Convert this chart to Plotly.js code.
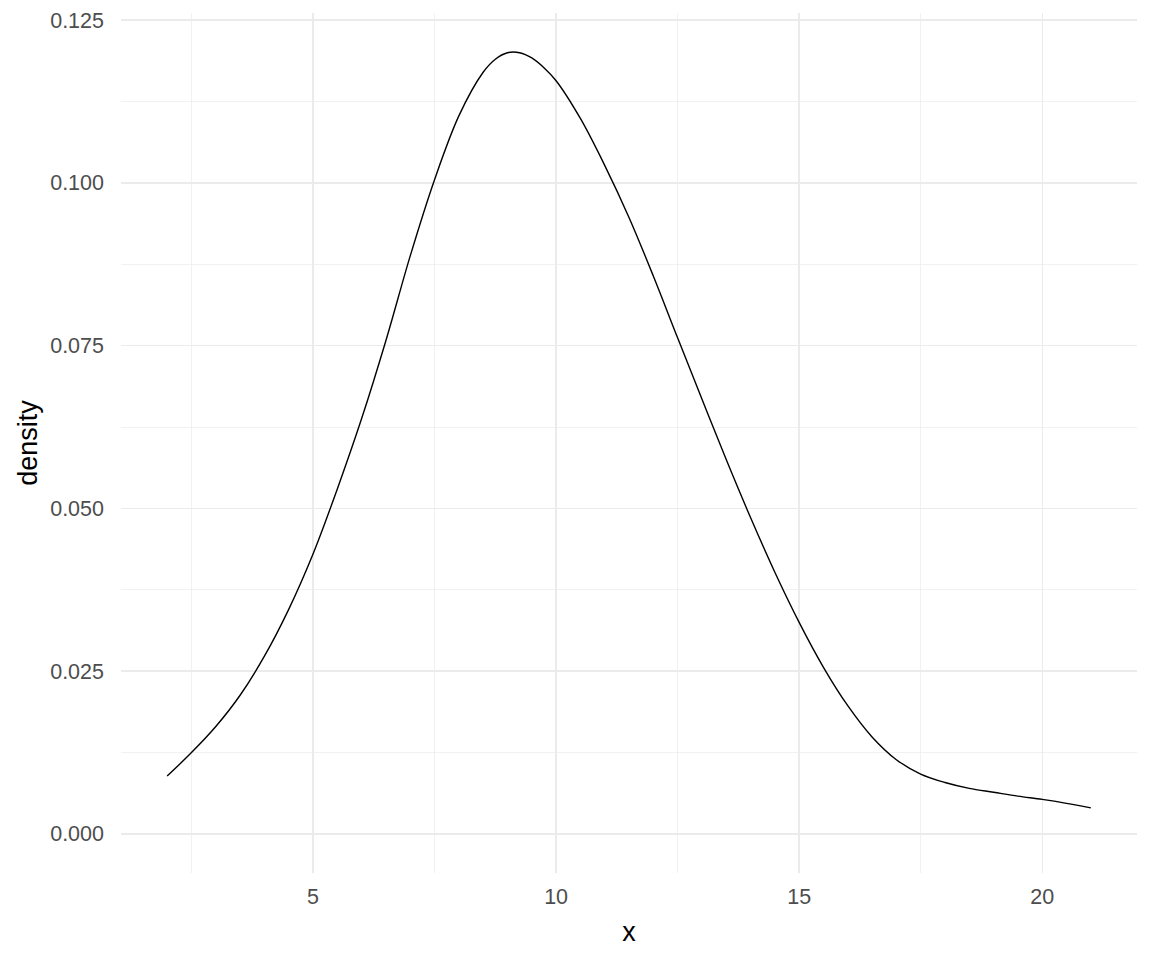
<!DOCTYPE html>
<html>
<head>
<meta charset="utf-8">
<script src="https://cdn.plot.ly/plotly-3.0.1.min.js"></script>
<style>html,body{margin:0;padding:0;background:#fff;}#chart{width:1152px;height:960px;}</style>
</head>
<body>
<div id="chart"></div>
<script>
// Density curve
var xValues = [2.0, 2.5, 3.0, 3.5, 4.0, 4.5, 5.0, 5.5, 6.0, 6.5, 7.0, 7.5, 8.0, 8.5, 8.75, 9.0, 9.25, 9.5, 9.75, 10.0, 10.5, 11.0, 11.5, 12.0, 12.5, 13.0, 13.5, 14.0, 14.5, 15.0, 15.5, 16.0, 16.5, 17.0, 17.5, 18.0, 18.5, 19.0, 19.5, 20.0, 20.5, 21.0];
var densityValues = [0.0089, 0.0125, 0.0165, 0.0213, 0.0273, 0.0345, 0.0430, 0.0530, 0.0638, 0.0758, 0.0888, 0.1005, 0.1103, 0.1170, 0.1190, 0.1200, 0.1200, 0.1192, 0.1177, 0.1157, 0.1099, 0.1027, 0.0947, 0.0857, 0.0762, 0.0668, 0.0575, 0.0486, 0.0402, 0.0325, 0.0256, 0.0197, 0.0149, 0.0114, 0.0092, 0.0079, 0.0070, 0.0064, 0.0058, 0.0053, 0.0047, 0.0040];
var xTickValues = [5, 10, 15, 20];
var yTickValues = [0, 0.025, 0.05, 0.075, 0.1, 0.125];
var yTickLabels = ["0.000", "0.025", "0.050", "0.075", "0.100", "0.125"];
var xMinorValues = [2.5, 7.5, 12.5, 17.5];
var yMinorValues = [0.0125, 0.0375, 0.0625, 0.0875, 0.1125];
var xTitle = "x";
var yTitle = "density";

var trace = {
  x: xValues,
  y: densityValues,
  type: 'scatter',
  mode: 'lines',
  line: {color: '#000000', width: 1.4, shape: 'spline', smoothing: 1},
  hoverinfo: 'skip'
};

var gridCol = '#EBEBEB';
var tickFont = {family: 'Liberation Sans, Arial, sans-serif', size: 21.5, color: '#4D4D4D'};
var titleFont = {family: 'Liberation Sans, Arial, sans-serif', size: 27, color: '#000000'};

var layout = {
  width: 1152,
  height: 960,
  paper_bgcolor: '#FFFFFF',
  plot_bgcolor: '#FFFFFF',
  showlegend: false,
  margin: {l: 121, r: 15, t: 13, b: 87, pad: 0},
  xaxis: {
    range: [1.05, 21.95],
    tickmode: 'array',
    tickvals: xTickValues,
    ticktext: xTickValues.map(String),
    showgrid: true,
    gridcolor: gridCol,
    gridwidth: 1.4,
    zeroline: false,
    showline: false,
    ticks: '',
    ticklabelstandoff: 8,
    tickfont: tickFont,
    minor: {tickmode: 'array', tickvals: xMinorValues, showgrid: true, gridcolor: gridCol, gridwidth: 0.7, ticks: ''},
    title: {text: xTitle, font: titleFont, standoff: 14},
    automargin: false
  },
  yaxis: {
    range: [-0.006, 0.1261],
    tickmode: 'array',
    tickvals: yTickValues,
    ticktext: yTickLabels,
    showgrid: true,
    gridcolor: gridCol,
    gridwidth: 1.4,
    zeroline: false,
    showline: false,
    ticks: '',
    ticklabelstandoff: 16,
    tickfont: tickFont,
    minor: {tickmode: 'array', tickvals: yMinorValues, showgrid: true, gridcolor: gridCol, gridwidth: 0.7, ticks: ''},
    title: {text: yTitle, font: titleFont, standoff: 4},
    automargin: false
  }
};

Plotly.newPlot('chart', [trace], layout, {staticPlot: true, displayModeBar: false});
</script>
</body>
</html>
